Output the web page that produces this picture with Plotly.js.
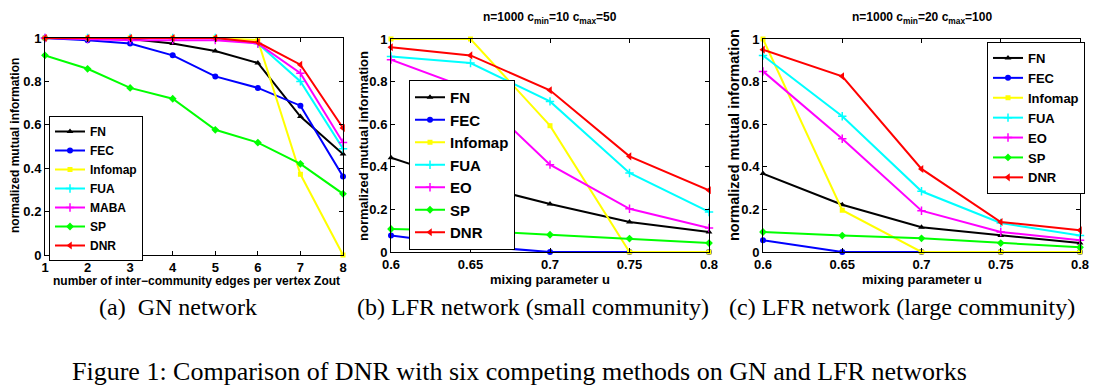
<!DOCTYPE html>
<html>
<head>
<meta charset="utf-8">
<script src="https://cdn.plot.ly/plotly-3.0.1.min.js"></script>
<style>
  html, body { margin: 0; padding: 0; background: #fff; }
  #chart { width: 1108px; height: 392px; }
</style>
</head>
<body>
<div id="chart"></div>
<script>
// ---------- data ----------
const methodsGN = ["FN", "FEC", "Infomap", "FUA", "MABA", "SP", "DNR"];
const methodsLFR = ["FN", "FEC", "Infomap", "FUA", "EO", "SP", "DNR"];

const gnX = [1, 2, 3, 4, 5, 6, 7, 8];
const gnFN      = [1, 0.995, 0.995, 0.975, 0.94, 0.885, 0.638, 0.465];
const gnFEC     = [1, 0.99, 0.975, 0.92, 0.823, 0.77, 0.688, 0.362];
const gnInfomap = [1, 1, 1, 1, 1, 0.99, 0.372, 0];
const gnFUA     = [1, 1, 1, 1, 1, 0.975, 0.80, 0.49];
const gnMABA    = [1, 0.995, 0.99, 0.99, 0.99, 0.975, 0.838, 0.518];
const gnSP      = [0.92, 0.858, 0.77, 0.72, 0.577, 0.518, 0.42, 0.282];
const gnDNR     = [1, 1, 1, 1, 1, 0.98, 0.877, 0.585];

const lfrX = [0.6, 0.65, 0.7, 0.75, 0.8];
const lfrTickText = ["0.6", "0.65", "0.7", "0.75", "0.8"];

const smFN      = [0.443, 0.32, 0.225, 0.141, 0.094];
const smFEC     = [0.077, 0.03, 0, 0, 0];
const smInfomap = [1, 1, 0.593, 0, 0];
const smFUA     = [0.918, 0.887, 0.707, 0.371, 0.188];
const smEO      = [0.903, 0.765, 0.41, 0.203, 0.113];
const smSP      = [0.108, 0.10, 0.081, 0.063, 0.042];
const smDNR     = [0.961, 0.923, 0.759, 0.449, 0.29];

const lgFN      = [0.368, 0.222, 0.116, 0.078, 0.042];
const lgFEC     = [0.055, 0, 0, 0, 0];
const lgInfomap = [1, 0.196, 0, 0, 0];
const lgFUA     = [0.922, 0.637, 0.285, 0.136, 0.078];
const lgEO      = [0.848, 0.532, 0.194, 0.094, 0.055];
const lgSP      = [0.094, 0.077, 0.064, 0.042, 0.022];
const lgDNR     = [0.95, 0.825, 0.39, 0.141, 0.102];

const yTicks = [0, 0.2, 0.4, 0.6, 0.8, 1];
const yTickText = ["0", "0.2", "0.4", "0.6", "0.8", "1"];

// ---------- styles ----------
const colors = ["#000000", "#0000ff", "#ffff00", "#00ffff", "#ff00ff", "#00ff00", "#ff0000"];
const symbols = ["triangle-up", "circle", "square", "cross-thin", "cross-thin", "diamond", "triangle-left"];
const msize = [6, 6, 5, 6, 6, 6, 7];

const W = 1108, H = 392;
const px = v => v / W;
const py = v => 1 - v / H;

function mk(xs, ys, i, name, xa, ya, leg) {
  const thin = symbols[i].indexOf("thin") >= 0;
  return {
    type: "scatter", mode: "lines+markers",
    x: xs, y: ys, name: name,
    xaxis: xa, yaxis: ya, legend: leg,
    cliponaxis: false,
    line: { color: colors[i], width: 2 },
    marker: { symbol: symbols[i], size: msize[i], color: colors[i],
              line: { color: colors[i], width: thin ? 1.5 : 0 } }
  };
}

const gnSeries = [gnFN, gnFEC, gnInfomap, gnFUA, gnMABA, gnSP, gnDNR];
const smSeries = [smFN, smFEC, smInfomap, smFUA, smEO, smSP, smDNR];
const lgSeries = [lgFN, lgFEC, lgInfomap, lgFUA, lgEO, lgSP, lgDNR];

const traces = [];
gnSeries.forEach((s, i) => traces.push(mk(gnX, s, i, methodsGN[i], "x", "y", "legend")));
smSeries.forEach((s, i) => traces.push(mk(lfrX, s, i, methodsLFR[i], "x2", "y2", "legend2")));
lgSeries.forEach((s, i) => traces.push(mk(lfrX, s, i, methodsLFR[i], "x3", "y3", "legend3")));

const tickFont = { family: "Liberation Sans, Arial, sans-serif", size: 13, color: "#000", weight: "bold" };
function axBase(extra) {
  return Object.assign({
    showline: true, mirror: "ticks", linecolor: "#000", linewidth: 1,
    ticks: "inside", ticklen: 4, tickcolor: "#000", tickwidth: 1,
    showgrid: false, zeroline: false, tickfont: tickFont, fixedrange: true
  }, extra);
}

function legendBox(xl, yt, size) {
  return {
    x: px(xl), y: py(yt), xanchor: "left", yanchor: "top",
    bgcolor: "#ffffff", bordercolor: "#000", borderwidth: 1,
    font: { family: "Liberation Sans, Arial, sans-serif", size: size, color: "#000", weight: "bold" },
    itemwidth: 30, tracegroupgap: 0
  };
}

const labFont = (s) => ({ family: "Liberation Sans, Arial, sans-serif", size: s, color: "#000", weight: "bold" });
const capFont = (s) => ({ family: "Liberation Serif, Times New Roman, serif", size: s, color: "#000" });

function ann(text, x, y, font, opts) {
  return Object.assign({
    text: text, x: px(x), y: py(y), xref: "paper", yref: "paper",
    showarrow: false, xanchor: "center", yanchor: "middle", font: font
  }, opts || {});
}

const layout = {
  width: W, height: H,
  margin: { l: 0, r: 0, t: 0, b: 0 },
  paper_bgcolor: "#fff", plot_bgcolor: "#fff",
  showlegend: true,
  xaxis:  axBase({ domain: [px(45), px(343)], range: [1, 8], tickvals: gnX, ticktext: gnX.map(String), anchor: "y" }),
  yaxis:  axBase({ domain: [py(255), py(38)], range: [0, 1], tickvals: yTicks, ticktext: yTickText, anchor: "x" }),
  xaxis2: axBase({ domain: [px(391), px(709)], range: [0.6, 0.8], tickvals: lfrX, ticktext: lfrTickText, anchor: "y2" }),
  yaxis2: axBase({ domain: [py(252), py(39)], range: [0, 1], tickvals: yTicks, ticktext: yTickText, anchor: "x2" }),
  xaxis3: axBase({ domain: [px(763), px(1080)], range: [0.6, 0.8], tickvals: lfrX, ticktext: lfrTickText, anchor: "y3" }),
  yaxis3: axBase({ domain: [py(252), py(39)], range: [0, 1], tickvals: yTicks, ticktext: yTickText, anchor: "x3" }),
  legend:  legendBox(49, 116, 12),
  legend2: legendBox(409, 80, 15),
  legend3: legendBox(987, 42, 13),
  annotations: [
    ann("n=1000 c<sub>min</sub>=10 c<sub>max</sub>=50", 550, 18, labFont(12)),
    ann("n=1000 c<sub>min</sub>=20 c<sub>max</sub>=100", 922, 18, labFont(12)),
    ann("number of inter\u2212community edges per vertex Zout", 196, 281, labFont(12)),
    ann("mixing parameter u", 550, 279, labFont(13)),
    ann("mixing parameter u", 922, 279, labFont(13)),
    ann("normalized mutual information", 15, 146, labFont(12), { textangle: -90 }),
    ann("normalized mutual information", 363, 146, labFont(13), { textangle: -90 }),
    ann("normalized mutual information", 734, 135, labFont(14.5), { textangle: -90 }),
    ann("(a)&nbsp; GN network", 178, 307, capFont(24)),
    ann("(b) LFR network (small community)", 533, 307, capFont(24)),
    ann("(c) LFR network (large community)", 902, 307, capFont(24)),
    ann("Figure 1: Comparison of DNR with six competing methods on GN and LFR networks", 70, 371, capFont(26), { xanchor: "left" })
  ]
};

Plotly.newPlot("chart", traces, layout, { staticPlot: true, displayModeBar: false });
</script>
</body>
</html>
